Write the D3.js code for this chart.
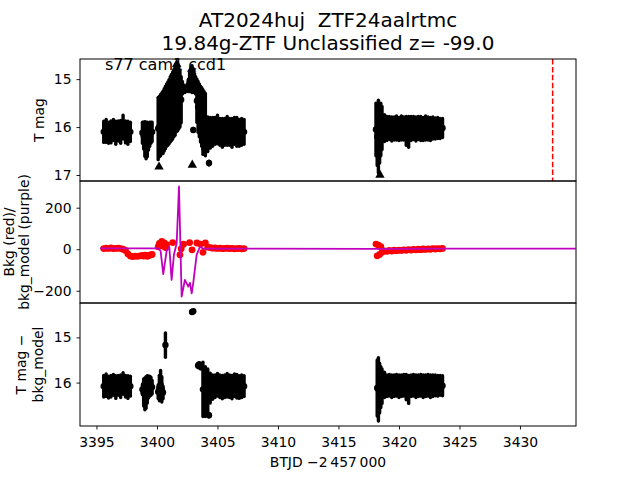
<!DOCTYPE html>
<html><head><meta charset="utf-8">
<script src="https://cdn.jsdelivr.net/npm/d3@7"></script>
<style>body{margin:0;background:#fff} svg{display:block} text{font-family:"DejaVu Sans",sans-serif;white-space:pre}</style>
</head><body><svg id="c" width="640" height="480"></svg>
<script>
// ---------------- data ----------------
const titleLines = ["AT2024huj  ZTF24aalrtmc", "19.84g-ZTF Unclassified z= -99.0"];
const sectorLabel = "s77 cam1 ccd1";

const btjd = [
  3395.6,3395.8,3396.0,3396.2,3396.4,3396.6,3396.8,3397.0,3397.2,3397.4,3397.6,3397.8,
  3398.0,3398.2,3398.4,3398.6,
  3398.8,3398.9,3399.0,3399.1,3399.2,3399.3,3399.4,3399.5,3399.6,
  3400.1,3400.2,3400.3,3400.4,3400.5,3400.6,3400.7,3400.8,3400.9,3401.0,
  3401.1,3401.2,3401.3,3401.4,3401.5,3401.6,3401.7,3401.8,3401.9,3402.0,
  3402.1,3402.2,3402.3,3402.4,3402.5,3402.6,3402.7,3402.8,3402.9,3403.0,
  3403.1,3403.2,3403.3,3403.4,3403.5,3403.6,3403.7,3403.8,3403.9,3404.0,
  3403.0,3404.3,3403.8,3404.0,3404.2,3404.4,3404.6,3404.8,3405.0,3405.2,3405.4,3405.6,3405.8,3406.0,3406.2,3406.4,3406.6,3406.8,3407.0,3407.2,
  3418.1,3418.2,3418.3,3418.4,3418.5,3418.6,3418.8,3419.0,3419.2,3419.4,3419.6,3419.8,3420.0,3420.2,3420.4,3420.6,
  3420.8,3421.0,3421.2,3421.4,3421.6,3421.8,3422.0,3422.2,3422.4,3422.6,3422.8,3423.0,3423.2,3423.4,3423.6
];
const tmag = [
  16.10,16.08,16.12,16.10,16.06,16.12,16.08,16.10,16.00,16.10,16.12,16.10,
  null,null,null,null,
  16.12,16.18,16.25,16.28,16.26,16.20,16.15,16.12,16.10,
  16.03,15.99,15.96,15.92,15.90,15.85,15.80,15.75,15.72,15.68,
  15.63,15.59,15.55,15.50,15.46,15.39,15.37,15.38,15.41,15.43,
  15.18,15.20,15.22,15.22,15.19,15.13,15.06,15.01,15.00,15.03,
  15.08,15.13,15.45,15.58,15.65,15.73,15.79,15.84,15.88,15.93,
  16.06,16.75,16.12,16.18,16.15,16.12,16.10,16.08,16.05,16.10,16.12,16.10,16.08,16.10,16.12,16.08,16.10,16.12,16.10,16.10,
  16.05,16.20,16.20,16.15,16.05,16.02,16.02,16.03,16.02,16.04,16.03,16.02,16.04,16.02,16.03,16.08,
  16.10,16.03,16.02,16.04,16.02,16.03,16.04,16.02,16.03,16.04,16.02,16.03,16.02,16.03,16.02
];
const tmagErr = [
  0.22,0.24,0.22,0.23,0.22,0.24,0.21,0.24,0.25,0.23,0.24,0.20,
  null,null,null,null,
  0.22,0.28,0.36,0.38,0.36,0.28,0.25,0.22,0.20,
  0.65,0.63,0.64,0.63,0.65,0.65,0.65,0.65,0.66,0.67,
  0.68,0.69,0.70,0.70,0.71,0.71,0.71,0.66,0.59,0.48,
  0.13,0.08,0.06,0.04,0.07,0.13,0.20,0.25,0.28,0.25,
  0.20,0.18,0.45,0.53,0.55,0.58,0.61,0.62,0.62,0.63,
  0.03,0.04,0.45,0.42,0.36,0.32,0.30,0.28,0.30,0.28,0.30,0.28,0.30,0.28,0.30,0.28,0.30,0.28,0.28,0.26,
  0.55,0.60,0.76,0.60,0.55,0.45,0.28,0.25,0.24,0.25,0.24,0.25,0.24,0.25,0.24,0.30,
  0.32,0.25,0.24,0.25,0.24,0.25,0.24,0.25,0.24,0.24,0.23,0.22,0.22,0.21,0.20
];
const bkg = [
  3,5,4,6,3,4,5,3,0,-6,-22,-33,
  -35,-33,-34,-32,
  -30,-33,-29,-31,-34,-30,-28,-27,-25,
  12,28,20,38,15,30,8,22,null,null,
  null,null,32,null,null,null,null,null,-27,2,
  null,24,null,null,null,null,32,null,-3,null,
  null,null,30,null,null,25,null,null,null,null,
  null,null,-15,30,10,8,5,6,4,5,3,4,5,3,4,2,3,4,2,3,
  25,-32,20,-25,12,-15,-8,-10,-6,-9,-5,-7,-4,-6,-3,-5,
  -2,-4,-1,-3,0,-2,1,-1,2,0,3,1,3,2,4
];
const magCorr = [
  16.08,16.06,16.10,16.08,16.05,16.10,16.06,16.08,16.02,16.08,16.10,16.08,
  null,null,null,null,
  16.15,16.22,16.25,16.22,16.15,16.10,16.08,16.08,16.10,
  16.20,16.12,16.05,16.15,16.22,null,15.17,null,null,null,
  null,null,null,null,null,null,null,null,null,null,
  null,null,null,null,null,null,null,null,14.44,14.42,
  null,null,null,15.62,15.60,15.65,null,null,null,null,
  null,16.72,16.15,16.20,16.20,16.12,16.10,16.08,16.05,16.08,16.10,16.08,16.06,16.08,16.10,16.06,16.08,16.10,16.08,16.08,
  null,16.12,16.15,16.12,16.10,16.08,16.05,16.07,16.06,16.08,16.07,16.06,16.08,16.07,16.06,16.10,
  16.15,16.07,16.06,16.08,16.07,16.06,16.08,16.07,16.06,16.08,16.07,16.06,16.07,16.06,16.07
];
const magCorrErr = [
  0.24,0.25,0.24,0.24,0.23,0.25,0.22,0.25,0.24,0.24,0.25,0.22,
  null,null,null,null,
  0.12,0.30,0.35,0.35,0.30,0.24,0.22,0.20,0.15,
  0.15,0.28,0.32,0.28,0.14,null,0.27,null,null,null,
  null,null,null,null,null,null,null,null,null,null,
  null,null,null,null,null,null,null,null,0.02,0.02,
  null,null,null,0.05,0.04,0.05,null,null,null,null,
  null,0.04,0.60,0.55,0.50,0.33,0.27,0.25,0.25,0.25,0.26,0.25,0.26,0.25,0.26,0.25,0.26,0.25,0.25,0.23,
  null,0.62,0.70,0.55,0.45,0.38,0.28,0.24,0.24,0.25,0.24,0.24,0.25,0.24,0.24,0.28,
  0.31,0.24,0.24,0.25,0.24,0.24,0.25,0.24,0.24,0.25,0.24,0.23,0.23,0.22,0.22
];
// upper-limit style triangle markers (top panel)
const limitBtjd = [3400.17, 3402.92, 3418.43, 3401.63, 3402.87];
const limitMag  = [16.83, 16.79, 17.00, 14.69, 14.79];
// background model (purple line)
const modelBtjd = [3395.3,3400.1,3400.3,3400.52,3400.8,3401.02,3401.21,3401.4,3401.63,3401.82,3402.04,3402.31,3402.59,3402.73,3402.87,3403.0,3403.28,3403.55,3403.8,3407.2,3418.1,3423.6,3434.6];
const modelBkg  = [4,4,-8,-120,-8,11,-148,-27,29,302,-228,-148,-180,-162,-212,-162,-27,12,3,3,2,3,3];
const eventBtjd = 3432.7;

const xTicks = [3395,3400,3405,3410,3415,3420,3425,3430];
const y1Ticks = [15,16,17];
const y2Ticks = [200,0,-200];
const y3Ticks = [15,16];

// ---------------- drawing ----------------
const svg = d3.select("#c");
const L = 80, R = 576;
const P = [[59,181],[181,303],[303,426]];
const x  = d3.scaleLinear().domain([3393.64, 3434.63]).range([L, R]);
const y1 = d3.scaleLinear().domain([14.58, 17.125]).range([59, 181]);
const y2 = d3.scaleLinear().domain([328.6, -259]).range([181, 303]);
const y3 = d3.scaleLinear().domain([14.24, 16.96]).range([303, 426]);

const rows = btjd.map((t,i)=>({t, m:tmag[i], e:tmagErr[i], b:bkg[i], mc:magCorr[i], ec:magCorrErr[i]}));

const defs = svg.append("defs");
P.forEach((p,i)=>{
  defs.append("clipPath").attr("id","clip"+i).append("rect")
    .attr("x",L).attr("y",p[0]).attr("width",R-L).attr("height",p[1]-p[0]);
});

// Panel 1: T mag
const g1 = svg.append("g").attr("clip-path","url(#clip0)");
const r1 = rows.filter(d=>d.m!=null);
g1.selectAll("line.eb").data(r1).join("line")
  .attr("x1",d=>x(d.t)).attr("x2",d=>x(d.t))
  .attr("y1",d=>y1(d.m-d.e)).attr("y2",d=>y1(d.m+d.e))
  .attr("stroke","#000").attr("stroke-width",3.4).attr("stroke-linecap","round");
g1.selectAll("circle").data(r1).join("circle")
  .attr("cx",d=>x(d.t)).attr("cy",d=>y1(d.m)).attr("r",3.2).attr("fill","#000");
g1.selectAll("path.lim").data(limitBtjd.map((t,i)=>({t,m:limitMag[i]}))).join("path")
  .attr("d",d3.symbol(d3.symbolTriangle,38))
  .attr("transform",d=>`translate(${x(d.t)},${y1(d.m)})`).attr("fill","#000");
g1.append("line").attr("x1",x(eventBtjd)).attr("x2",x(eventBtjd)).attr("y1",59).attr("y2",181)
  .attr("stroke","#ff0000").attr("stroke-width",1.5).attr("stroke-dasharray","5.5,2.4");

// Panel 2: background
const g2 = svg.append("g").attr("clip-path","url(#clip1)");
g2.selectAll("circle").data(rows.filter(d=>d.b!=null)).join("circle")
  .attr("cx",d=>x(d.t)).attr("cy",d=>y2(d.b)).attr("r",3.4).attr("fill","#ff0000");
g2.append("path").datum(modelBtjd.map((t,i)=>[t,modelBkg[i]]))
  .attr("d",d3.line().x(d=>x(d[0])).y(d=>y2(d[1])))
  .attr("fill","none").attr("stroke","#bf00bf").attr("stroke-width",1.8).attr("stroke-linejoin","round");

// Panel 3: corrected
const g3 = svg.append("g").attr("clip-path","url(#clip2)");
const r3 = rows.filter(d=>d.mc!=null);
g3.selectAll("line").data(r3).join("line")
  .attr("x1",d=>x(d.t)).attr("x2",d=>x(d.t))
  .attr("y1",d=>y3(d.mc-d.ec)).attr("y2",d=>y3(d.mc+d.ec))
  .attr("stroke","#000").attr("stroke-width",3.4).attr("stroke-linecap","round");
g3.selectAll("circle").data(r3).join("circle")
  .attr("cx",d=>x(d.t)).attr("cy",d=>y3(d.mc)).attr("r",3.2).attr("fill","#000");

// Frames
P.forEach(p=>{
  svg.append("rect").attr("x",L).attr("y",p[0]).attr("width",R-L).attr("height",p[1]-p[0])
    .attr("fill","none").attr("stroke","#000").attr("stroke-width",1);
});

function styleAxis(g){
  g.attr("font-family","DejaVu Sans, sans-serif").attr("font-size",13.9);
  g.select(".domain").remove();
  g.selectAll(".tick line").attr("stroke","#000").attr("stroke-width",0.9);
  g.selectAll(".tick text").attr("fill","#000");
}
const fmt = d3.format("d");
[[y1,y1Ticks],[y2,y2Ticks],[y3,y3Ticks]].forEach(([s,t])=>{
  const g = svg.append("g").attr("transform",`translate(${L},0)`)
    .call(d3.axisLeft(s).tickValues(t).tickSize(3.5).tickPadding(5).tickFormat(fmt));
  styleAxis(g);
});
const gx = svg.append("g").attr("transform",`translate(0,426)`)
  .call(d3.axisBottom(x).tickValues(xTicks).tickSize(3.5).tickPadding(3.5).tickFormat(fmt));
styleAxis(gx);
gx.selectAll(".tick text").attr("y",11.5);

// Texts
svg.append("text").attr("x",328).attr("y",27).attr("text-anchor","middle").attr("font-size",20)
  .attr("xml:space","preserve").text(titleLines[0]);
svg.append("text").attr("x",328).attr("y",50).attr("text-anchor","middle").attr("font-size",20).text(titleLines[1]);
svg.append("text").attr("x",105).attr("y",69.5).attr("font-size",16).text(sectorLabel);
svg.append("text").attr("x",328).attr("y",467).attr("text-anchor","middle").attr("font-size",13.9)
  .text("BTJD \u22122\u2009457\u2009000");

function ylabel(cx, cy, txt){
  svg.append("text").attr("transform",`translate(${cx},${cy}) rotate(-90)`)
    .attr("text-anchor","middle").attr("dominant-baseline","central").attr("font-size",13.9).text(txt);
}
ylabel(38.5, 120, "T mag");
ylabel(8.5, 242, "Bkg (red)/");
ylabel(23.5, 242, "bkg_model (purple)");
ylabel(20.5, 364.5, "T mag \u2212");
ylabel(37.5, 364.5, "bkg_model");
</script></body></html>
